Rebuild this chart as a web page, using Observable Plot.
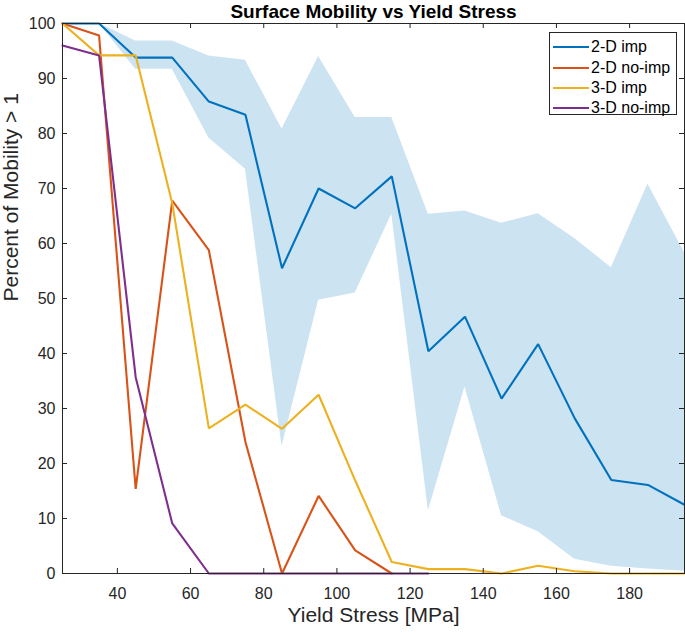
<!DOCTYPE html>
<html>
<head>
<meta charset="utf-8">
<script src="https://cdn.jsdelivr.net/npm/d3@7"></script>
<script src="https://cdn.jsdelivr.net/npm/@observablehq/plot@0.6"></script>
<style>
  body { margin: 0; background: #fff; }
  #wrap { position: relative; width: 685px; height: 633px; font-family: "Liberation Sans", Arial, sans-serif; }
  #legend { position: absolute; left: 549px; top: 32px; width: 128px; height: 83px; border: 1px solid #262626; background: #fff; box-sizing: border-box; }
  .lg-row { position: absolute; left: 3px; height: 20px; display: flex; align-items: center; font-size: 16px; color: #000; white-space: nowrap; }
  .lg-line { width: 36px; height: 2px; margin-right: 2px; }
</style>
</head>
<body>
<div id="wrap"></div>
<script>
// ---- data ----
const yieldStress = [25, 35, 45, 55, 65, 75, 85, 95, 105, 115, 125, 135, 145, 155, 165, 175, 185, 195];
const imp2D      = [100, 100, 93.8, 93.8, 85.8, 83.4, 55.5, 70.0, 66.4, 72.2, 40.4, 46.7, 31.8, 41.7, 28.2, 17.0, 16.1, 12.5];
const imp2DLower = [100, 100, 91.7, 91.7, 79.2, 73.5, 23.1, 49.7, 51.0, 65.3, 11.4, 33.9, 10.5, 7.6, 2.6, 1.3, 0.8, 0.4];
const imp2DUpper = [100, 100, 96.8, 96.8, 94.1, 93.3, 80.8, 94.0, 82.9, 82.9, 65.3, 65.9, 63.7, 65.4, 60.9, 55.6, 70.8, 58.3];
const noImp2D    = [100, 97.8, 15.4, 67.8, 58.8, 23.9, 0, 14.1, 4.2, 0];          // 25 .. 115
const imp3D      = [100, 94.2, 94.2, 67.3, 26.4, 30.7, 26.3, 32.5, 16.9, 2.1, 0.8, 0.8, 0, 1.4, 0.4, 0, 0, 0];
const noImp3D    = [96.0, 94.2, 35.7, 9.1, 0, 0, 0, 0, 0, 0, 0];                // 25 .. 125
const seriesNames  = ["2-D imp", "2-D no-imp", "3-D imp", "3-D no-imp"];
const seriesColors = ["#0072BD", "#D95319", "#EDB120", "#7E2F8E"];
const xTicks = [40, 60, 80, 100, 120, 140, 160, 180];
const yTicks = [0, 10, 20, 30, 40, 50, 60, 70, 80, 90, 100];
const titleText = "Surface Mobility vs Yield Stress";
const xLabel = "Yield Stress [MPa]";
const yLabel = "Percent of Mobility > 1";

// ---- build tables ----
const seriesValues = [imp2D, noImp2D, imp3D, noImp3D];
const rows = seriesValues.flatMap((vals, s) =>
  vals.map((v, i) => ({x: yieldStress[i], y: v, series: seriesNames[s]})));
const band = yieldStress.map((x, i) => ({x, lo: imp2DLower[i], hi: imp2DUpper[i]}));

const W = 685, H = 633, mL = 62, mR = 1, mT = 23, mB = 60;
const pw = W - mL - mR, ph = H - mT - mB;
const axisColor = "#262626";
const tk = 5;

const chart = Plot.plot({
  width: W, height: H,
  marginLeft: mL, marginRight: mR, marginTop: mT, marginBottom: mB,
  style: {fontFamily: '"Liberation Sans", Arial, sans-serif', background: "#fff", overflow: "visible"},
  x: {domain: [25, 195]},
  y: {domain: [0, 100]},
  color: {domain: seriesNames, range: seriesColors},
  marks: [
    Plot.areaY(band, {x: "x", y1: "lo", y2: "hi", fill: "#0072BD", fillOpacity: 0.2}),
    Plot.line(rows, {x: "x", y: "y", z: "series", stroke: "series", strokeWidth: 2.1, strokeLinejoin: "miter"}),
    Plot.frame({stroke: axisColor, strokeWidth: 1}),
    Plot.tickY(yTicks, {y: d => d, stroke: axisColor, insetRight: pw - tk}),
    Plot.tickY(yTicks, {y: d => d, stroke: axisColor, insetLeft: pw - tk}),
    Plot.tickX(xTicks, {x: d => d, stroke: axisColor, insetTop: ph - tk}),
    Plot.tickX(xTicks, {x: d => d, stroke: axisColor, insetBottom: ph - tk}),
    Plot.axisX({ticks: xTicks, tickSize: 0, tickPadding: 14, fontSize: 16, fill: axisColor, label: null}),
    Plot.axisY({ticks: yTicks, tickSize: 0, tickPadding: 7, fontSize: 16, fill: axisColor, label: null}),
    Plot.text([titleText], {text: d => d, frameAnchor: "top", lineAnchor: "bottom", dy: -6, fontSize: 19, fontWeight: "bold", fill: "#000"}),
    Plot.text([xLabel], {text: d => d, frameAnchor: "bottom", dy: 48, fontSize: 21, fill: axisColor}),
    Plot.text([yLabel], {text: d => d, frameAnchor: "left", rotate: -90, dx: -51, dy: 3, fontSize: 21, fill: axisColor})
  ]
});

const wrap = document.getElementById("wrap");
wrap.appendChild(chart);

// legend (HTML overlay inside the axes box)
const legend = document.createElement("div");
legend.id = "legend";
const rowTops = [4, 25, 45, 65];
seriesNames.forEach((name, i) => {
  const r = document.createElement("div");
  r.className = "lg-row";
  r.style.top = rowTops[i] + "px";
  const ln = document.createElement("span");
  ln.className = "lg-line";
  ln.style.background = seriesColors[i];
  const tx = document.createElement("span");
  tx.textContent = name;
  r.appendChild(ln); r.appendChild(tx);
  legend.appendChild(r);
});
wrap.appendChild(legend);
</script>
</body>
</html>
